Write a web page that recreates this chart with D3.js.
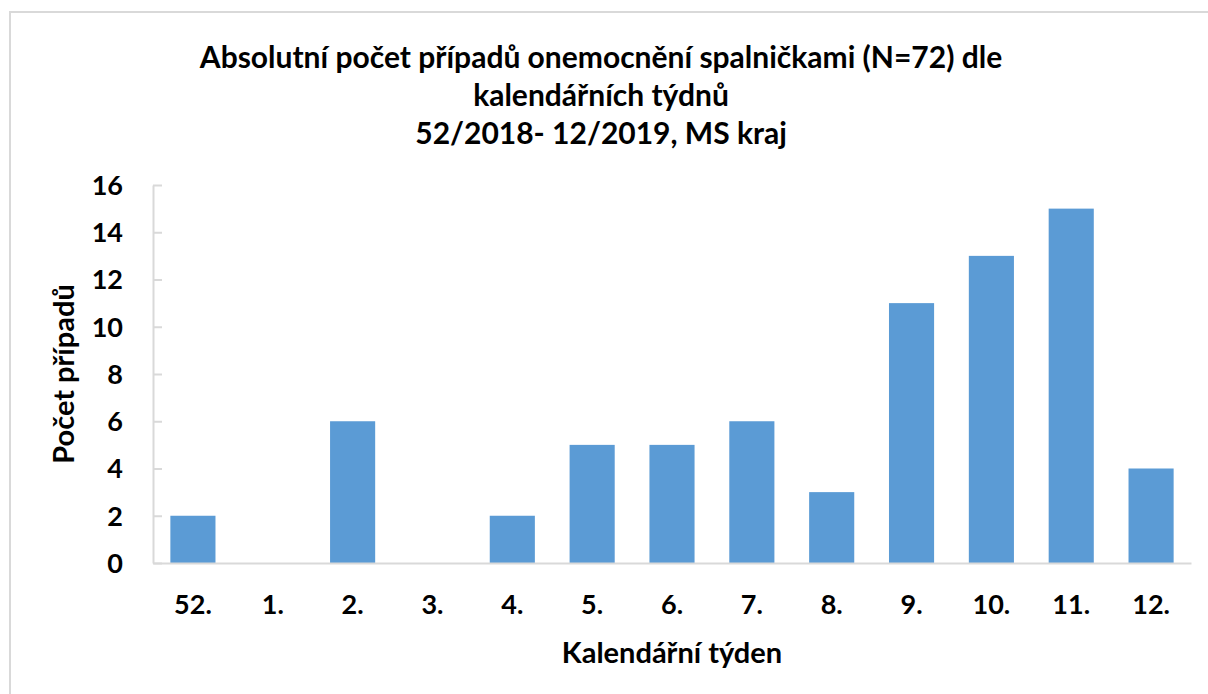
<!DOCTYPE html>
<html>
<head>
<meta charset="utf-8">
<script src="https://cdn.jsdelivr.net/npm/d3@7"></script>
<style>
  body { margin: 0; background: #fff; }
  text { font-family: Lato, "Open Sans", sans-serif; font-weight: bold; fill: #000; }
</style>
</head>
<body>
<svg id="chart" width="1208" height="694"></svg>
<script>
// data
var weeks = ["52.", "1.", "2.", "3.", "4.", "5.", "6.", "7.", "8.", "9.", "10.", "11.", "12."];
var cases = [2, 0, 6, 0, 2, 5, 5, 6, 3, 11, 13, 15, 4];
var yTicks = [0, 2, 4, 6, 8, 10, 12, 14, 16];
var titleLines = [
    "Absolutní počet případů onemocnění spalničkami (N=72) dle",
    "kalendářních týdnů",
    "52/2018- 12/2019, MS kraj"
];

var svg = d3.select("#chart");
var plotLeft = 153, plotRight = 1191, plotTop = 185, plotBottom = 563;

// outer chart border (runs off the page on the right and bottom)
svg.append("rect")
    .attr("x", 10).attr("y", 12)
    .attr("width", 1400).attr("height", 900)
    .style("fill", "#fff")
    .style("stroke", "#d9d9d9")
    .style("stroke-width", 2);

var xScale = d3.scaleBand()
    .domain(weeks)
    .range([plotLeft, plotRight])
    .paddingInner(0.435)
    .paddingOuter(0.2175);

var yScale = d3.scaleLinear()
    .domain([0, 16])
    .range([plotBottom, plotTop]);

// title
svg.append("g").selectAll("text")
    .data(titleLines)
    .enter().append("text")
    .attr("x", 601)
    .attr("y", function(d, i) { return 68 + i * 38; })
    .attr("text-anchor", "middle")
    .style("font-size", "30px")
    .text(function(d) { return d; });

// y axis
var yAxis = d3.axisLeft(yScale)
    .tickValues(yTicks)
    .tickSizeInner(-9)
    .tickSizeOuter(0)
    .tickPadding(30);

var gy = svg.append("g")
    .attr("transform", "translate(" + plotLeft + ",0)")
    .call(yAxis);
gy.select(".domain").style("stroke", "#d9d9d9").style("stroke-width", 2);
gy.selectAll(".tick line").style("stroke", "#d9d9d9").style("stroke-width", 2);
gy.selectAll(".tick text")
    .style("font-size", "27px")
    .style("font-family", "Lato, sans-serif")
    .style("font-weight", "bold")
    .attr("dy", "0.35em");

// bars
svg.append("g").selectAll("rect")
    .data(cases)
    .enter().append("rect")
    .attr("x", function(d, i) { return xScale(weeks[i]); })
    .attr("width", xScale.bandwidth())
    .attr("y", function(d) { return yScale(d); })
    .attr("height", function(d) { return yScale(0) - yScale(d); })
    .style("fill", "#5b9bd5");

// x axis
var xAxis = d3.axisBottom(xScale)
    .tickSize(0)
    .tickPadding(42);

var gx = svg.append("g")
    .attr("transform", "translate(0," + plotBottom + ")")
    .call(xAxis);
gx.select(".domain").style("stroke", "#d9d9d9").style("stroke-width", 2);
gx.selectAll(".tick text")
    .style("font-size", "27px")
    .style("font-family", "Lato, sans-serif")
    .style("font-weight", "bold")
    .attr("dy", "0.35em");

// axis titles
svg.append("text")
    .attr("x", (plotLeft + plotRight) / 2)
    .attr("y", 663)
    .attr("text-anchor", "middle")
    .style("font-size", "29px")
    .text("Kalendářní týden");

svg.append("text")
    .attr("transform", "translate(74," + ((plotTop + plotBottom) / 2) + ") rotate(-90)")
    .attr("text-anchor", "middle")
    .style("font-size", "29px")
    .text("Počet případů");
</script>
</body>
</html>
